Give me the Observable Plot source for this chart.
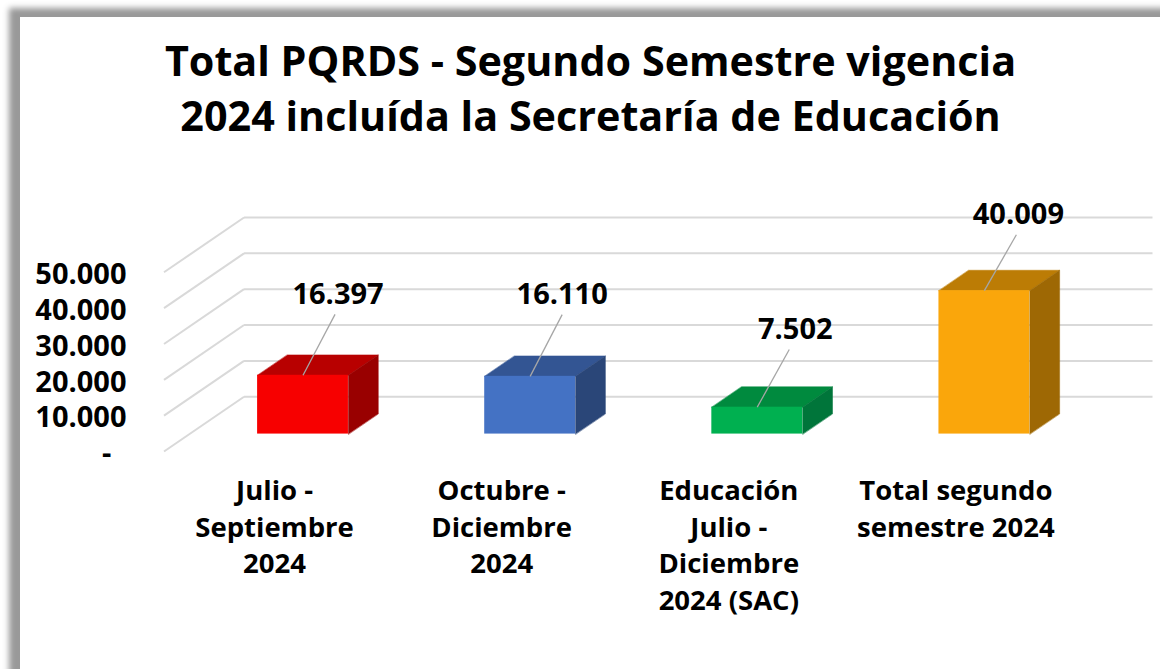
<!DOCTYPE html>
<html lang="es">
<head>
<meta charset="utf-8">
<script src="https://cdn.jsdelivr.net/npm/d3@7"></script>
<script src="https://cdn.jsdelivr.net/npm/@observablehq/plot@0.6"></script>
<style>
html,body{margin:0;padding:0;background:#fff;width:1160px;height:669px;overflow:hidden}
#frame{position:absolute;left:20px;top:17px;width:1300px;height:900px;background:#fff;box-shadow:-6px -4px 6px 5px #999;z-index:0}
#wrap{position:relative;z-index:1;width:1160px}
#title{height:165px;box-sizing:border-box;padding-top:33px;text-align:center;padding-left:21px;font:700 41.3px/55px "Open Sans",sans-serif;color:#000}
svg{display:block;overflow:visible}
</style>
</head>
<body>
<div id="frame"></div>
<div id="wrap">
<div id="title">Total PQRDS - Segundo Semestre vigencia<br>2024 incluída la Secretaría de Educación</div>
<div id="chart"></div>
</div>
<script>
const categories = ["Julio -\nSeptiembre\n2024","Octubre -\nDiciembre\n2024","Educación\nJulio -\nDiciembre\n2024 (SAC)","Total segundo\nsemestre 2024"];
const values = [16397,16110,7502,40009];
const frontColors = ["#f70000","#4472c4","#00b050","#faa60b"];
const topColors = ["#b80000","#335593","#008a3e","#bc7c05"];
const sideColors = ["#990000","#2a4678","#00753a","#9e6804"];
const yTicks = [0,10000,20000,30000,40000,50000];
const leaderRise = [17000,17200,16100,15600];
const labelShift = [0,-3,3,-1];

const DX = 80/227, DY = 55/36*10000, Z0 = 17.5/55, Z1 = 38/55, BL = 0.3, BR = 0.7;
const px = (c,z) => c + z*DX, py = (v,z) => v + z*DY;
const es = d3.formatLocale({decimal:",",thousands:".",grouping:[3],currency:["",""]}).format(",d");
const font = '"Open Sans",sans-serif';

const poly = (pts, color) => Plot.line(pts, {x:d=>d[0], y:d=>d[1], fill:color, stroke:color, strokeWidth:0.5, curve:"linear-closed"});

const bars = values.flatMap((v,i) => {
  const l=i+BL, r=i+BR;
  return [
    poly([[px(l,Z0),py(v,Z0)],[px(r,Z0),py(v,Z0)],[px(r,Z1),py(v,Z1)],[px(l,Z1),py(v,Z1)]], topColors[i]),
    poly([[px(r,Z0),py(0,Z0)],[px(r,Z0),py(v,Z0)],[px(r,Z1),py(v,Z1)],[px(r,Z1),py(0,Z1)]], sideColors[i]),
    Plot.rect([0],{x1:px(l,Z0),x2:px(r,Z0),y1:py(0,Z0),y2:py(v,Z0),fill:frontColors[i]})
  ];
});
const mid = i => px(i+0.5,Z0);
const idx = d3.range(values.length);

const plot = Plot.plot({
  width:1160, height:504, marginLeft:163.5, marginRight:8, marginTop:52, marginBottom:218,
  style:{background:"transparent",overflow:"visible"},
  x:{domain:[0,4+DX],range:[163.5,1152],axis:null},
  y:{domain:[0,65278],range:[286,52],axis:null},
  marks:[
    Plot.link(yTicks,{x1:px(0,1),x2:px(4,1),y1:d=>py(d,1),y2:d=>py(d,1),stroke:"#d9d9d9",strokeWidth:2}),
    Plot.link(yTicks,{x1:px(0,0),x2:px(0,1),y1:d=>py(d,0),y2:d=>py(d,1),stroke:"#d9d9d9",strokeWidth:2}),
    ...bars,
    Plot.link(idx,{x1:i=>mid(i),y1:i=>py(values[i],Z0),x2:i=>mid(i)+32/227,y2:i=>py(values[i],Z0)+leaderRise[i],stroke:"#a6a6a6",strokeWidth:1.3}),
    Plot.text(idx,{x:i=>mid(i)+(35+labelShift[i])/227,y:i=>py(values[i],Z0)+leaderRise[i]+5500,text:i=>es(values[i]),fontFamily:font,fontWeight:700,fontSize:29,fill:"#000"}),
    Plot.axisY(yTicks,{anchor:"left",tickSize:0,tickPadding:37.5,dy:2.5,tickFormat:d=>d===0?"-\u00a0\u00a0":es(d),fontFamily:font,fontWeight:700,fontSize:29,fill:"#000",label:null}),
    Plot.text(categories,{x:(d,i)=>i+0.5-3/227,y:0,text:d=>d,dy:22.5,lineAnchor:"top",lineHeight:1.335,fontFamily:font,fontWeight:700,fontSize:27.5,fill:"#000"})
  ]
});
document.getElementById("chart").append(plot);
</script>
</body>
</html>
